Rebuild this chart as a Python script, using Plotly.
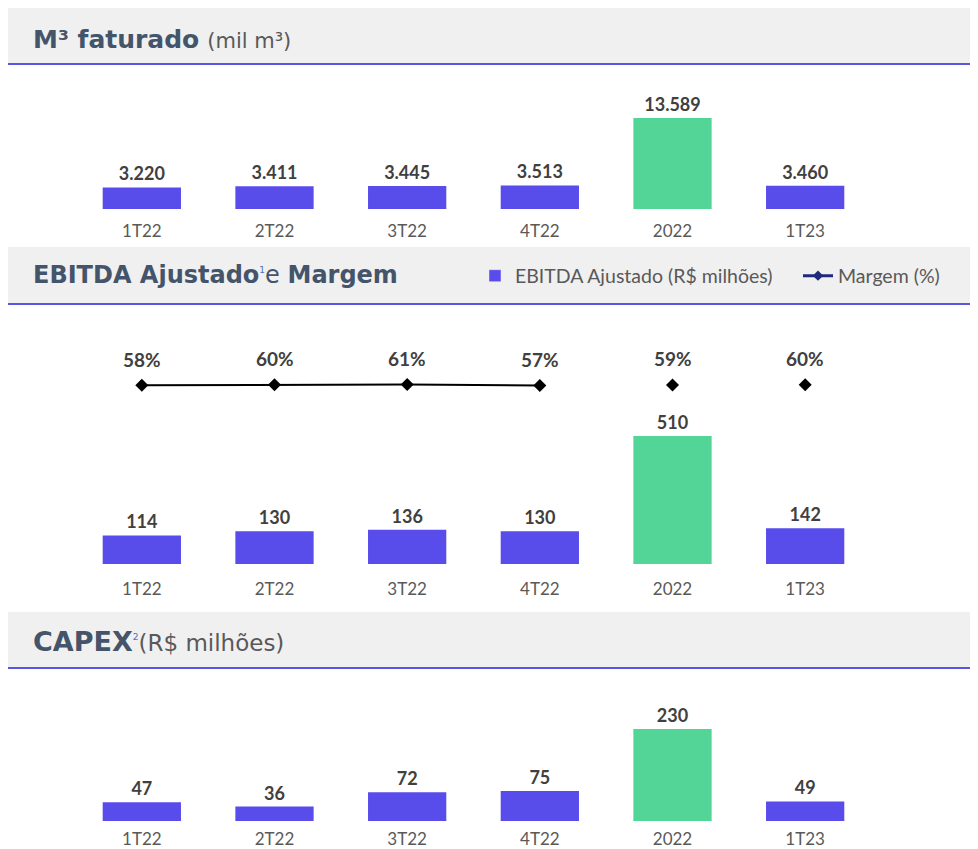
import plotly.graph_objects as go

# ---- data ----
categories = ["1T22", "2T22", "3T22", "4T22", "2022", "1T23"]
m3_faturado = [3220, 3411, 3445, 3513, 13589, 3460]
ebitda = [114, 130, 136, 130, 510, 142]
margem = [58, 60, 61, 57, 59, 60]
capex = [47, 36, 72, 75, 230, 49]
quarter_idx = [0, 1, 2, 3]
annual_idx = [4, 5]

PURPLE = "#584CEB"
GREEN = "#52D597"
BLUE_LINE = "#5B55E6"
TITLE_C = "#44546A"
TICK_C = "#595959"
VAL_C = "#404040"
FONT = "Lato"
TFONT = "DejaVu Sans"
OFF = 8  # page body margin
W, H = 978 - OFF, 849 - OFF

bar_colors = [GREEN if c == "2022" else PURPLE for c in categories]

def py(p):
    return 1 - (p - OFF) / H

def px(p):
    return (p - OFF) / W

fig = go.Figure()

bar_common = dict(
    marker=dict(color=bar_colors, line=dict(width=0)),
    width=0.59,
    textposition="outside",
    texttemplate="<b>%{y:,.0f}</b>",
    textfont=dict(size=18, color=VAL_C, family=FONT),
    cliponaxis=False,
    showlegend=False,
)

fig.add_trace(go.Bar(x=categories, y=m3_faturado, xaxis="x", yaxis="y", **bar_common))
fig.add_trace(go.Bar(x=categories, y=ebitda, xaxis="x2", yaxis="y2", **bar_common))
fig.add_trace(go.Bar(x=categories, y=capex, xaxis="x3", yaxis="y3", **bar_common))

# margin line (quarters) and standalone annual markers
fig.add_trace(go.Scatter(
    x=[categories[i] for i in quarter_idx], y=[margem[i] for i in quarter_idx],
    xaxis="x2", yaxis="y4", mode="lines+markers",
    line=dict(color="#000000", width=2),
    marker=dict(symbol="diamond", size=10, color="#000000"),
    showlegend=False, cliponaxis=False,
))
fig.add_trace(go.Scatter(
    x=[categories[i] for i in annual_idx], y=[margem[i] for i in annual_idx],
    xaxis="x2", yaxis="y4", mode="markers",
    marker=dict(symbol="diamond", size=10, color="#000000"),
    showlegend=False, cliponaxis=False,
))

# legend entries (two separate legends for exact placement)
fig.add_trace(go.Bar(x=[categories[0]], y=[None], xaxis="x2", yaxis="y2", name="EBITDA Ajustado (R$ milhões)",
                     marker=dict(color=PURPLE), showlegend=True, legend="legend"))
fig.add_trace(go.Scatter(x=[categories[0]], y=[None], xaxis="x2", yaxis="y4", name="Margem (%)",
                         mode="lines+markers", line=dict(color="#1F2A7C", width=3),
                         marker=dict(symbol="diamond", size=8, color="#1F2A7C"), showlegend=True,
                         legend="legend2"))

# margin labels (category index used so "2022" is not read as a number)
annotations = []
for i, m in enumerate(margem):
    annotations.append(dict(
        x=i, y=m, xref="x2", yref="y4", text=f"<b>{m}%</b>", showarrow=False,
        yshift=26, font=dict(size=19, color=VAL_C, family=FONT),
    ))

# header titles
annotations += [
    dict(x=px(31), y=py(39), xref="paper", yref="paper", xanchor="left", yanchor="middle",
         showarrow=False, align="left",
         text="<b>M³ faturado</b> <span style='font-size:21px;color:#595959'>(mil m³)</span>",
         font=dict(size=25, color=TITLE_C, family=TFONT)),
    dict(x=px(31), y=py(275), xref="paper", yref="paper", xanchor="left", yanchor="middle",
         showarrow=False, align="left",
         text="<b>EBITDA Ajustado</b><sup><span style='font-size:9px;color:#4472C4'>1</span></sup>e <b>Margem</b>",
         font=dict(size=24, color=TITLE_C, family=TFONT)),
    dict(x=px(31), y=py(641), xref="paper", yref="paper", xanchor="left", yanchor="middle",
         showarrow=False, align="left",
         text="<b>CAPEX</b><sup><span style='font-size:9px;color:#4472C4'>2</span></sup><span style='font-size:23px;color:#595959'>(R$ milhões)</span>",
         font=dict(size=27, color=TITLE_C, family=TFONT)),
]

shapes = []
for top, line_y in [(8, 64), (247, 304), (612, 668)]:
    shapes.append(dict(type="rect", xref="paper", yref="paper", x0=0, x1=1,
                       y0=py(line_y), y1=py(top), fillcolor="#F0F0F0", line=dict(width=0), layer="below"))
    shapes.append(dict(type="line", xref="paper", yref="paper", x0=0, x1=1,
                       y0=py(line_y), y1=py(line_y), line=dict(color=BLUE_LINE, width=2)))

xdom = [px(75.5), px(871.5)]
xcommon = dict(type="category", domain=xdom, showgrid=False, zeroline=False, showline=False, ticks="",
               tickfont=dict(size=17, color=TICK_C, family=FONT),
               categoryorder="array", categoryarray=categories, range=[-0.5, 5.5], fixedrange=True)
ycommon = dict(showgrid=False, zeroline=False, showline=False, showticklabels=False, fixedrange=True)

# panel extents (pixels): bottom of bars / top of plotting area
p1 = (209, 80)
p2 = (564, 340)
p3 = (821, 700)

r1 = max(m3_faturado) * (p1[0] - p1[1]) / 91
r2 = max(ebitda) * (p2[0] - p2[1]) / 128
r3 = max(capex) * (p3[0] - p3[1]) / 92

# margin axis: nearly flat around pixel 385
span = (p2[0] - p2[1]) / 0.2
frac = (p2[0] - 385) / (p2[0] - p2[1])
m_lo = 59 - frac * span

legend_common = dict(orientation="h", xanchor="left", yanchor="middle",
                     bgcolor="rgba(0,0,0,0)", font=dict(size=19.5, color=TICK_C, family=FONT),
                     itemwidth=30)

fig.update_layout(
    width=W, height=H,
    margin=dict(l=0, r=0, t=0, b=0, autoexpand=False),
    paper_bgcolor="white", plot_bgcolor="rgba(0,0,0,0)",
    separators=",.",
    font=dict(family=FONT, color=TICK_C),
    barmode="overlay",
    xaxis=dict(anchor="y", ticklabelstandoff=10, **xcommon),
    xaxis2=dict(anchor="y2", ticklabelstandoff=13, **xcommon),
    xaxis3=dict(anchor="y3", ticklabelstandoff=6, **xcommon),
    yaxis=dict(domain=[py(p1[0]), py(p1[1])], range=[0, r1], anchor="x", **ycommon),
    yaxis2=dict(domain=[py(p2[0]), py(p2[1])], range=[0, r2], anchor="x2", **ycommon),
    yaxis3=dict(domain=[py(p3[0]), py(p3[1])], range=[0, r3], anchor="x3", **ycommon),
    yaxis4=dict(overlaying="y2", range=[m_lo, m_lo + span], anchor="x2", visible=False, fixedrange=True),
    legend=dict(x=px(475), y=py(276), **legend_common),
    legend2=dict(x=px(798), y=py(276), **legend_common),
    shapes=shapes,
    annotations=annotations,
)

fig.write_html("out.html")
